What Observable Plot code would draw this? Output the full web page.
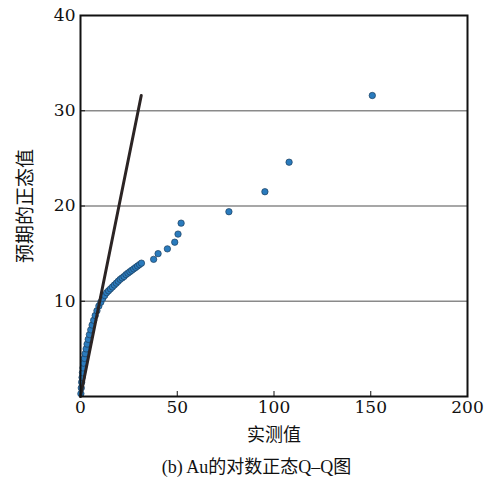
<!DOCTYPE html>
<html>
<head>
<meta charset="utf-8">
<script src="https://cdn.jsdelivr.net/npm/d3@7"></script>
<script src="https://cdn.jsdelivr.net/npm/@observablehq/plot@0.6"></script>
<style>
  html, body { margin: 0; padding: 0; background: #fff; }
  #caption { text-align: center; font-family: "Liberation Serif", "Noto Sans CJK SC", serif; font-size: 18px; color: #111; margin-left: 28px; width: 457px; }
</style>
</head>
<body>
<div id="chart"></div>
<div id="caption">(b) Au的对数正态Q–Q图</div>
<script>
// Observed (实测值) and expected normal values (预期的正态值)
const observed = [0.2, 0.4, 0.6, 0.8, 1.0, 1.3, 1.6, 2.0, 2.4, 2.9, 3.4, 4.0, 4.6, 5.3, 6.0, 6.8, 7.6, 8.5, 9.5, 10.5,
  11.5, 12.5, 13.5, 14.5, 15.5, 16.5, 17.5, 18.5, 19.5, 20.5, 21.5, 22.5, 23.5, 24.5, 25.5, 26.5, 27.5, 28.5, 29.5, 30.5, 31.5,
  37.8, 40.1, 44.9, 48.7, 50.4, 52.0, 76.7, 95.3, 107.8, 150.8];
const expected = [0.3, 0.9, 1.5, 2.0, 2.5, 3.0, 3.5, 4.0, 4.5, 5.0, 5.5, 6.0, 6.5, 7.0, 7.5, 8.0, 8.5, 9.0, 9.5, 9.9,
  10.3, 10.6, 10.9, 11.1, 11.3, 11.5, 11.7, 11.9, 12.1, 12.3, 12.45, 12.6, 12.8, 12.95, 13.1, 13.25, 13.4, 13.55, 13.7, 13.85, 14.0,
  14.4, 15.0, 15.5, 16.2, 17.05, 18.2, 19.4, 21.5, 24.6, 31.6];
// Reference line (y = x)
const refLineX = [0, 31.4];
const refLineY = [0, 31.6];
const xTicks = [0, 50, 100, 150, 200];
const yTicks = [10, 20, 30, 40];
const gridY = [10, 20, 30];

const points = observed.map((x, i) => ({x, y: expected[i]}));
const line = refLineX.map((x, i) => ({x, y: refLineY[i]}));
const tickFont = "'DejaVu Serif', serif";
const labelFont = "'Noto Sans CJK SC', sans-serif";

const chart = Plot.plot({
  width: 485,
  height: 452,
  marginLeft: 80,
  marginRight: 18,
  marginTop: 15,
  marginBottom: 56,
  style: {fontFamily: tickFont, fontSize: "17px", color: "#111", background: "#fff"},
  x: {domain: [0, 200]},
  y: {domain: [0, 40]},
  marks: [
    Plot.ruleY(gridY, {stroke: "#8a8a8a", strokeWidth: 1.3, strokeOpacity: 1}),
    Plot.dot(points, {x: "x", y: "y", r: 3.2, fill: "#2a7bbd", stroke: "#1d3f5e", strokeWidth: 0.7}),
    Plot.line(line, {x: "x", y: "y", stroke: "#2b2424", strokeWidth: 3}),
    Plot.axisX(xTicks, {tickSize: -5, tickPadding: 9, fontSize: 17, fontFamily: tickFont, label: null, stroke: "#111"}),
    Plot.axisY(yTicks, {tickSize: -5, tickPadding: 10, fontSize: 17, fontFamily: tickFont, label: null, stroke: "#111"}),
    Plot.axisX({ticks: [], label: "实测值", labelAnchor: "center", labelArrow: "none", labelOffset: 44, fontSize: 18, fontFamily: labelFont}),
    Plot.axisY({ticks: [], label: "预期的正态值", labelAnchor: "center", labelArrow: "none", labelOffset: 62, fontSize: 19, fontFamily: labelFont}),
    Plot.frame({stroke: "#111", strokeWidth: 2})
  ]
});
document.getElementById("chart").appendChild(chart);
</script>
</body>
</html>
